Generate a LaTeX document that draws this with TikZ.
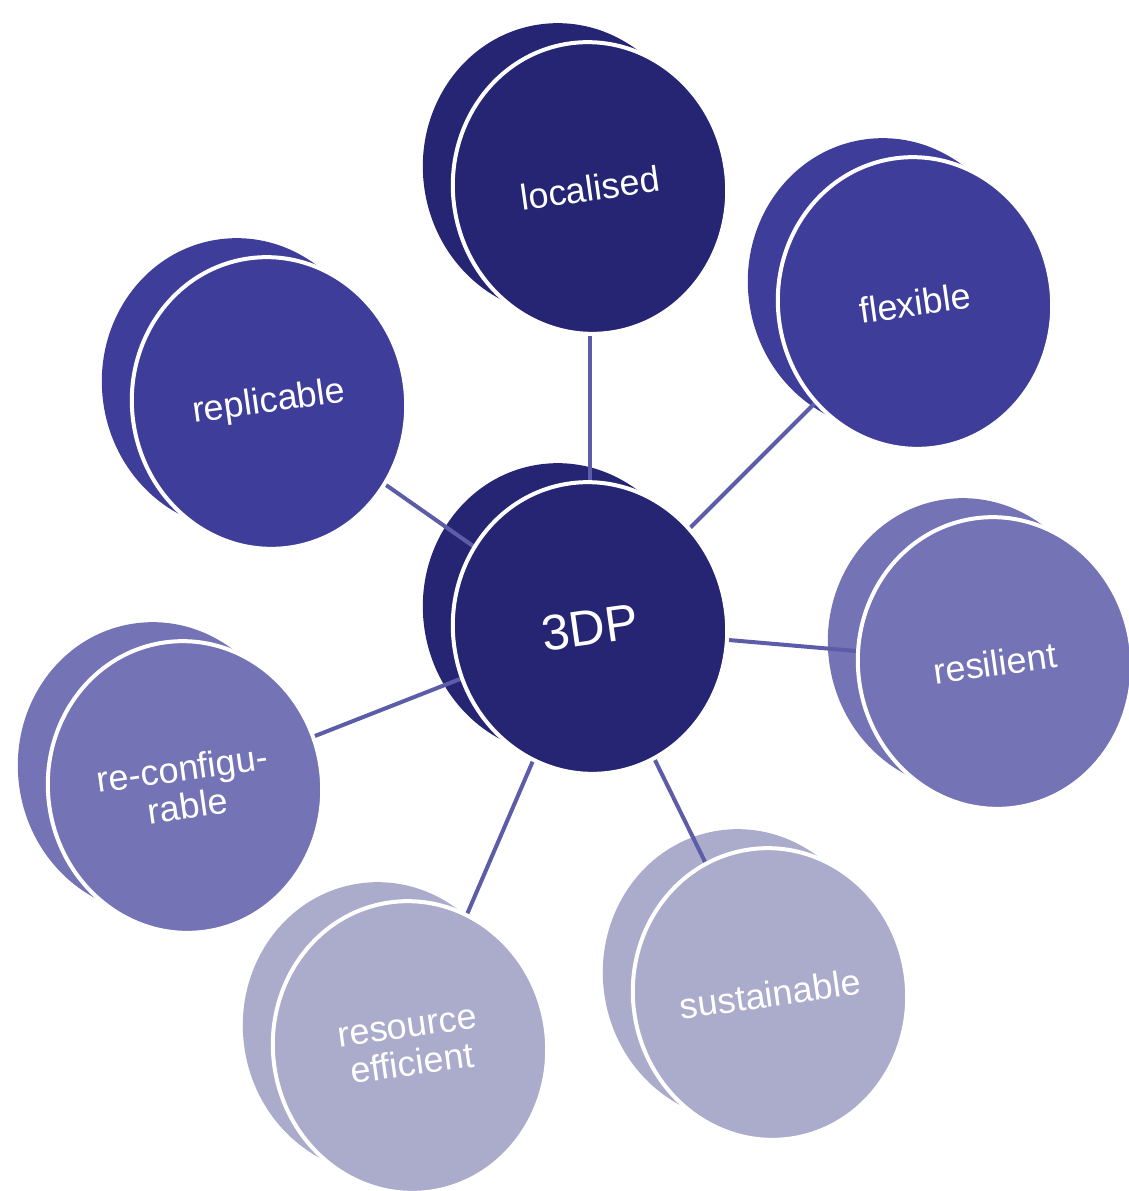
\documentclass[tikz,border=0pt]{standalone}
\usepackage{fontspec}
\setmainfont{Liberation Sans}
\usetikzlibrary{shapes.geometric}
\definecolor{navy}{HTML}{252573}
\definecolor{indigo}{HTML}{3E3E9A}
\definecolor{lavender}{HTML}{7373B5}
\definecolor{haze}{HTML}{ABABCB}
\definecolor{linkc}{HTML}{5C5CA8}
\begin{document}
\begin{tikzpicture}[x=1pt,y=-1pt]
\tikzset{ every node/.style={ellipse, minimum width=274pt, minimum height=292pt, inner sep=0pt, rotate=8}}
\tikzstyle{front}=[draw=white,line width=4pt,text=white,align=center,font=\fontsize{36}{38}\selectfont]
\tikzstyle{link}=[draw=linkc,line width=4pt]
\useasboundingbox (0,0) rectangle (1128,1191);
% centres
\coordinate (core) at (590,628);
\coordinate (loc) at (590,188);
\coordinate (flex) at (915,303);
\coordinate (repl) at (269,403);
\coordinate (resi) at (995,663);
\coordinate (reco) at (185,787);
\coordinate (reso) at (410,1047);
\coordinate (sust) at (770,994);
% back discs
\node[fill=navy] at ([shift={(-30,-19)}]core) {};
\node[fill=navy] at ([shift={(-30,-19)}]loc) {};
\node[fill=indigo] at ([shift={(-30,-19)}]flex) {};
\node[fill=indigo] at ([shift={(-30,-19)}]repl) {};
\node[fill=lavender] at ([shift={(-30,-19)}]resi) {};
\node[fill=lavender] at ([shift={(-30,-19)}]reco) {};
\node[fill=haze] at ([shift={(-30,-19)}]reso) {};
\node[fill=haze] at ([shift={(-30,-19)}]sust) {};
% links
\draw[link] (core) -- (loc);
\draw[link] (core) -- (flex);
\draw[link] (core) -- (repl);
\draw[link] (core) -- (resi);
\draw[link] (core) -- (reco);
\draw[link] (core) -- (reso);
\draw[link] (core) -- (sust);
% front discs
\node[front,fill=navy,font=\fontsize{50}{52}\selectfont] (n3dp) at (core) {3DP};
\node[front,fill=navy] (nloc) at (loc) {localised};
\node[front,fill=indigo] (nflex) at (flex) {flexible};
\node[front,fill=indigo] (nrepl) at (repl) {replicable};
\node[front,fill=lavender] (nresi) at (resi) {resilient};
\node[front,fill=lavender] (nreco) at (reco) {re-configu-\\rable};
\node[front,fill=haze] (nreso) at (reso) {resource\\efficient};
\node[front,fill=haze] (nsust) at (sust) {sustainable};
\end{tikzpicture}
\end{document}
